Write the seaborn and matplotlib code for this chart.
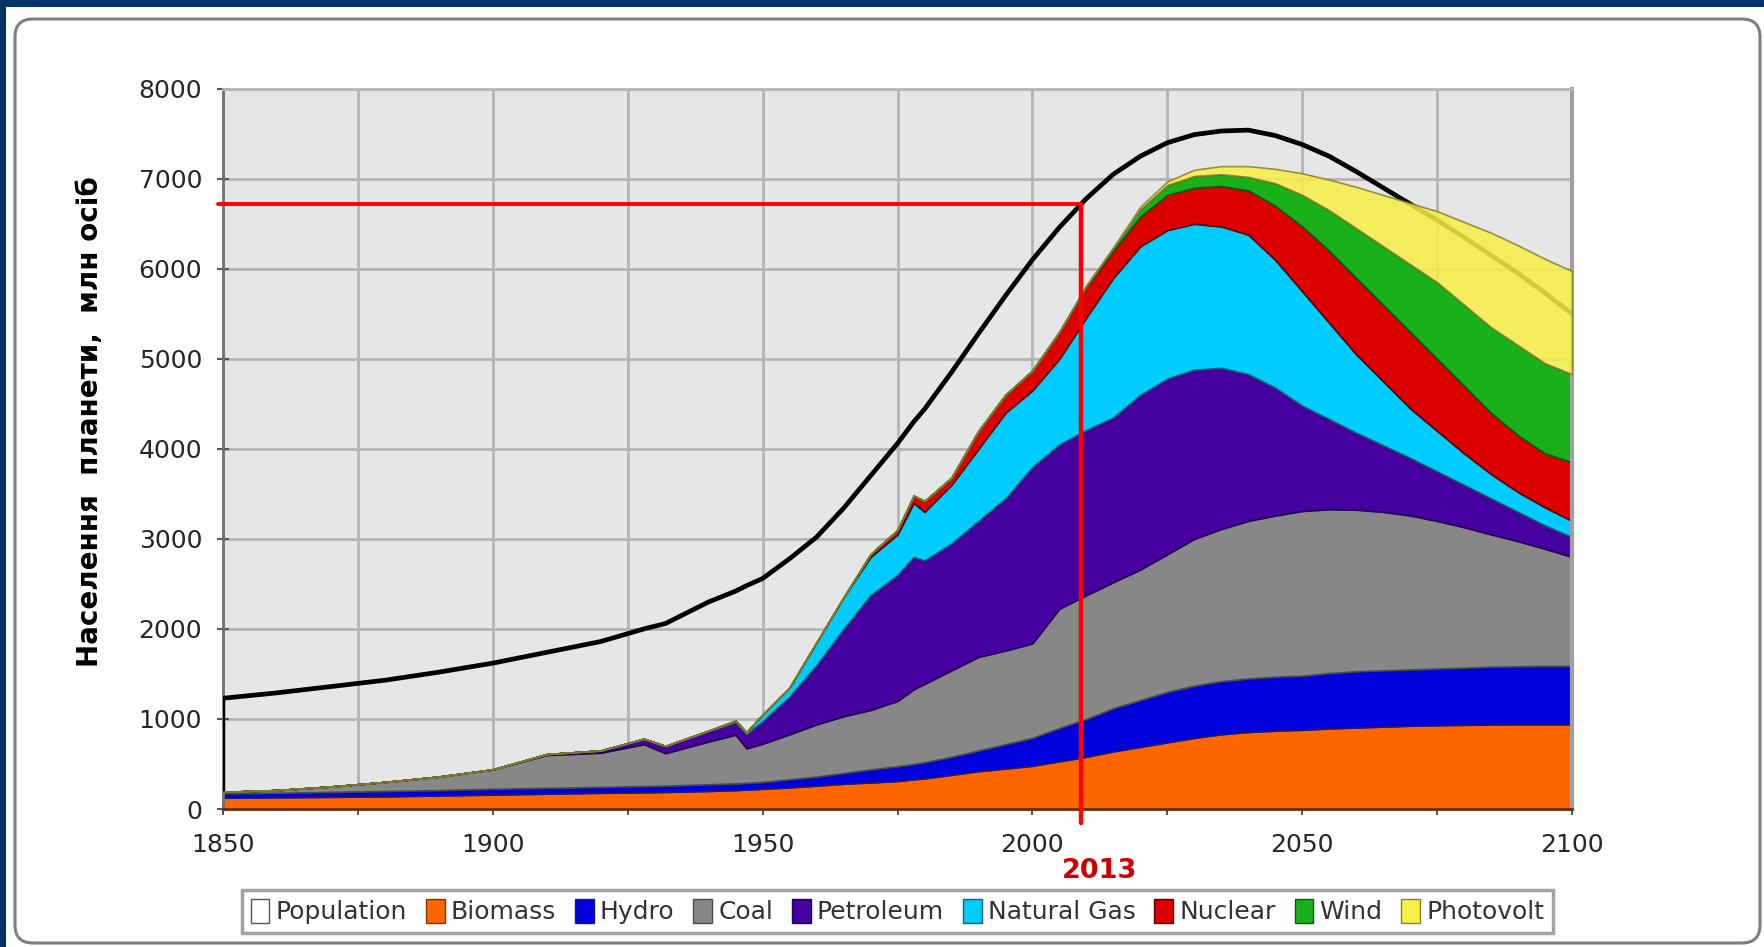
import numpy as np
import matplotlib
matplotlib.use("Agg")
import matplotlib.pyplot as plt
import seaborn as sns
from matplotlib.patches import Patch, Rectangle, FancyBboxPatch
from matplotlib.ticker import MultipleLocator, FuncFormatter
from matplotlib.transforms import IdentityTransform

# Роки та верхні межі кожного шару (накопичено)
years = [1850, 1860, 1870, 1880, 1890, 1900, 1910, 1920, 1928, 1932, 1940, 1945, 1947, 1950,
         1955, 1960, 1965, 1970, 1975, 1978, 1980, 1985, 1990, 1995, 2000, 2005, 2010, 2015,
         2020, 2025, 2030, 2035, 2040, 2045, 2050, 2055, 2060, 2065, 2070, 2075, 2080, 2085,
         2090, 2095, 2100]

population = [1230, 1290, 1360, 1430, 1520, 1620, 1740, 1860, 2000, 2060, 2300, 2420, 2480, 2560,
              2780, 3020, 3340, 3700, 4060, 4300, 4440, 4850, 5280, 5700, 6100, 6460, 6780, 7050,
              7250, 7400, 7490, 7530, 7540, 7480, 7380, 7250, 7080, 6900, 6720, 6540, 6350, 6150,
              5950, 5730, 5500]

biomass_top = [125, 130, 135, 140, 150, 160, 170, 180, 185, 190, 200, 210, 215, 225,
               240, 260, 280, 295, 310, 330, 340, 380, 420, 450, 480, 530, 580, 640,
               690, 740, 790, 830, 855, 870, 880, 895, 905, 915, 925, 930, 935, 938,
               940, 940, 940]

hydro_top = [175, 180, 190, 200, 210, 225, 235, 245, 255, 260, 275, 285, 290, 300,
             330, 360, 400, 440, 475, 500, 520, 580, 650, 720, 790, 900, 1000, 1120,
             1210, 1300, 1370, 1420, 1450, 1470, 1480, 1510, 1530, 1540, 1550, 1560, 1570, 1580,
             1585, 1590, 1590]

coal_top = [190, 210, 250, 300, 360, 440, 600, 625, 720, 620, 750, 825, 675, 725,
            830, 940, 1030, 1100, 1200, 1330, 1390, 1540, 1690, 1760, 1840, 2225, 2375, 2520,
            2660, 2830, 3000, 3110, 3200, 3260, 3310, 3330, 3325, 3300, 3260, 3200, 3130, 3050,
            2975, 2890, 2800]

petroleum_top = [190, 210, 250, 300, 360, 440, 610, 650, 780, 700, 870, 960, 830, 975,
                 1250, 1600, 2000, 2375, 2600, 2800, 2760, 2950, 3200, 3450, 3800, 4050, 4210, 4350,
                 4600, 4780, 4880, 4900, 4830, 4680, 4480, 4330, 4180, 4040, 3900, 3750, 3600, 3450,
                 3300, 3150, 3020]

gas_top = [190, 210, 250, 300, 360, 440, 610, 650, 780, 700, 870, 980, 850, 1050,
           1350, 1850, 2350, 2800, 3050, 3400, 3300, 3600, 4000, 4400, 4650, 5000, 5460, 5900,
           6250, 6430, 6500, 6470, 6380, 6100, 5750, 5400, 5050, 4750, 4450, 4200, 3950, 3720,
           3520, 3350, 3200]

nuclear_top = [190, 210, 250, 300, 360, 440, 610, 650, 780, 700, 870, 980, 850, 1050,
               1350, 1850, 2350, 2830, 3100, 3480, 3420, 3680, 4200, 4600, 4870, 5300, 5800, 6200,
               6580, 6820, 6900, 6920, 6870, 6700, 6470, 6200, 5900, 5600, 5300, 5000, 4700, 4400,
               4150, 3950, 3850]

wind_top = [190, 210, 250, 300, 360, 440, 610, 650, 780, 700, 870, 980, 850, 1050,
            1350, 1850, 2350, 2830, 3100, 3480, 3420, 3680, 4200, 4600, 4870, 5300, 5810, 6230,
            6660, 6930, 7030, 7050, 7020, 6950, 6820, 6650, 6450, 6250, 6050, 5850, 5600, 5350,
            5150, 4950, 4830]

solar_top = [190, 210, 250, 300, 360, 440, 610, 650, 780, 700, 870, 980, 850, 1050,
             1350, 1850, 2350, 2830, 3100, 3480, 3420, 3680, 4200, 4600, 4870, 5300, 5815, 6240,
             6690, 6970, 7100, 7140, 7140, 7110, 7060, 6990, 6910, 6820, 6730, 6640, 6520, 6400,
             6260, 6110, 5975]

sources = ["Biomass", "Hydro", "Coal", "Petroleum", "Natural Gas", "Nuclear", "Wind", "Photovolt"]
colors = ["#ff6600", "#0000dd", "#878787", "#4700a0", "#00ccff", "#dd0000", "#1ab01a", "#f7ef45"]
edges = ["#7a3300", "#1a1a70", "#4a4a4a", "#220055", "#1f5a70", "#5a0000", "#0d5a0d", "#8a8030"]

marker_year = 2009
marker_pop = 6720

# товщина шарів
tops = np.array([biomass_top, hydro_top, coal_top, petroleum_top, gas_top,
                 nuclear_top, wind_top, solar_top], dtype=float)
layers = np.diff(np.vstack([np.zeros(len(years)), tops]), axis=0)

sns.set_theme(style="white")
plt.rcParams["font.family"] = ["DejaVu Sans"]

fig = plt.figure(figsize=(17.65, 9.47), dpi=100)
fig.patch.set_facecolor("#003366")
fig.add_artist(Rectangle((6, 0), 1765, 940, transform=IdentityTransform(),
                         facecolor="white", edgecolor="none", zorder=0))
fig.add_artist(FancyBboxPatch((15, 4), 1745, 924, boxstyle="round,pad=0,rounding_size=18",
                              transform=IdentityTransform(), facecolor="white",
                              edgecolor="#7f7f7f", linewidth=2.2, zorder=0))

ax = fig.add_axes([223 / 1765, 1 - 809 / 947, 1349 / 1765, 720.3 / 947])
ax.set_facecolor("#e6e6e6")

polys = ax.stackplot(years, layers, colors=colors)
for p, e in zip(polys, edges):
    p.set_edgecolor(e)
    p.set_linewidth(1.2)
polys[-1].set_alpha(0.85)
polys[-1].set_zorder(4)

sns.lineplot(x=years, y=population, color="black", lw=3.4, ax=ax, zorder=3)
ax.vlines(years[0], coal_top[0], population[0], color="black", lw=2.5, zorder=3)

# позначка 2013 року
ax.plot([1849, marker_year], [marker_pop, marker_pop], color="red", lw=2.8, zorder=5, clip_on=False)
ax.plot([marker_year, marker_year], [-150, marker_pop], color="red", lw=3.2, zorder=5, clip_on=False)
ax.text(2012.5, -0.086, "2013", transform=ax.get_xaxis_transform(), ha="center", va="center",
        color="#cc0000", fontsize=19.5, fontweight="bold")

ax.set_xlim(1850, 2100)
ax.set_ylim(0, 8000)
ax.xaxis.set_major_locator(MultipleLocator(25))
ax.xaxis.set_minor_locator(MultipleLocator(12.5))
ax.xaxis.set_major_formatter(FuncFormatter(lambda v, p: f"{int(v)}" if v % 50 == 0 else ""))
ax.yaxis.set_major_locator(MultipleLocator(1000))
ax.yaxis.set_minor_locator(MultipleLocator(200))
ax.grid(which="major", color="#b4b4b4", lw=2)
ax.set_axisbelow(True)

ax.tick_params(which="major", direction="inout", length=8, width=1.5, color="#555555",
               labelsize=18, labelcolor="#262626")
ax.tick_params(which="minor", direction="inout", length=5, width=1.2, color="#555555")
ax.tick_params(axis="x", pad=13, bottom=True)
ax.tick_params(axis="y", pad=11, left=True)

ax.spines["left"].set_color("#707070")
ax.spines["left"].set_linewidth(2)
ax.spines["bottom"].set_color("#6b2f00")
ax.spines["bottom"].set_linewidth(2)
ax.spines["right"].set_color("#a0a0a0")
ax.spines["right"].set_linewidth(3)
ax.spines["top"].set_color("#b4b4b4")
ax.spines["top"].set_linewidth(2)

fig.text(90 / 1765, 1 - 422 / 947, "Населення  планети,  млн осіб", rotation=90,
         ha="center", va="center", fontsize=20, fontweight="bold", color="black")

handles = [Patch(facecolor="white", edgecolor="#555555", label="Population")]
handles += [Patch(facecolor=c, edgecolor=e, label=s) for s, c, e in zip(sources, colors, edges)]
leg = ax.legend(handles=handles, loc="upper center", bbox_to_anchor=(0.5, -0.095), ncol=9,
                fontsize=18, frameon=True, fancybox=False, edgecolor="#8c8c8c",
                handlelength=0.75, handleheight=1.1, handletextpad=0.25, columnspacing=0.75,
                borderpad=0.35, labelcolor="#333333")
leg.get_frame().set_linewidth(2.5)

fig.savefig("out.png", dpi=100, facecolor=fig.get_facecolor())
